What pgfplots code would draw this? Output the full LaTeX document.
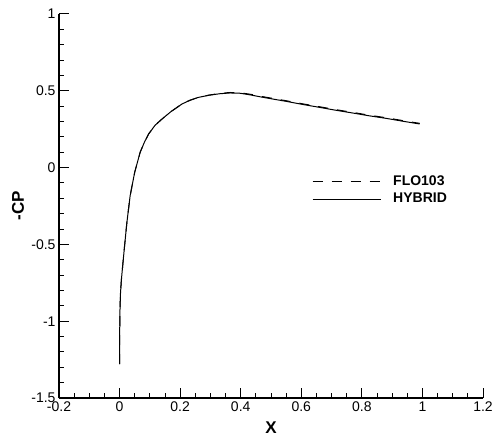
\documentclass[border=0pt]{standalone}
\usepackage{pgfplots}
\pgfplotsset{compat=1.18}
\usepackage{fontspec}
\setmainfont{Liberation Sans}
\pgfplotstableread{
x y
0.000 -1.28
0.0003 -1.10
0.001 -0.95
0.003 -0.82
0.006 -0.73
0.010 -0.645
0.017 -0.50
0.024 -0.36
0.035 -0.182
0.050 -0.03
0.068 0.100
0.082 0.165
0.096 0.219
0.117 0.275
0.140 0.316
0.170 0.365
0.206 0.414
0.232 0.438
0.260 0.457
0.295 0.471
0.331 0.481
0.365 0.486
0.398 0.484
0.430 0.474
0.464 0.461
0.510 0.445
0.551 0.431
0.605 0.411
0.661 0.392
0.715 0.373
0.771 0.355
0.825 0.337
0.882 0.320
0.935 0.302
0.991 0.284
}\hybrid
\pgfplotstableread{
x y
0.000 -1.28
0.0003 -1.10
0.001 -0.95
0.003 -0.82
0.006 -0.73
0.010 -0.645
0.017 -0.50
0.024 -0.36
0.035 -0.182
0.050 -0.03
0.068 0.100
0.082 0.165
0.096 0.219
0.117 0.275
0.140 0.316
0.170 0.365
0.206 0.414
0.232 0.438
0.260 0.457
0.295 0.472
0.331 0.483
0.365 0.489
0.398 0.487
0.430 0.478
0.464 0.465
0.510 0.449
0.551 0.435
0.605 0.415
0.661 0.396
0.715 0.377
0.771 0.359
0.825 0.341
0.882 0.324
0.935 0.306
0.991 0.288
}\flo
\begin{document}
\begin{tikzpicture}
\begin{axis}[
  scale only axis, width=424pt, height=384pt,
  xmin=-0.2, xmax=1.2, ymin=-1.5, ymax=1,
  axis x line*=bottom, axis y line*=left,
  xtick={-0.2,0,0.2,0.4,0.6,0.8,1,1.2},
  ytick={-1.5,-1,-0.5,0,0.5,1},
  minor x tick num=3, minor y tick num=4,
  tick align=inside,
  major tick length=10pt, minor tick length=5pt,
  tick style={black, line width=1pt},
  axis line style={line width=1.6pt},
  ticklabel style={font=\fontsize{14}{16}\selectfont},
  /pgf/number format/assume math mode=true,
  xlabel={\textbf{X}}, ylabel={\textbf{-CP}},
  label style={font=\fontsize{17}{19}\selectfont},
  xlabel style={at={(axis description cs:0.5,-0.078)}, anchor=center},
  ylabel style={at={(axis description cs:-0.0967,0.5)}, anchor=center},
  legend image code/.code={\draw[#1] (0pt,0pt) -- (68pt,0pt);},
  legend style={draw=none, fill=none, inner sep=0pt,
    at={(axis description cs:0.5967,0.540)}, anchor=west,
    font=\fontsize{14}{16}\selectfont\bfseries,
    nodes={inner sep=0pt, text height=10pt, text depth=3pt},
    row sep=4.6pt,
    /tikz/every odd column/.append style={column sep=12pt}},
  legend cell align=left,
]
\addplot[black, line width=1pt, dash pattern=on 10pt off 9pt] table {\flo};
\addlegendentry{FLO103}
\addplot[black, line width=1pt] table {\hybrid};
\addlegendentry{HYBRID}
\end{axis}
\pgfresetboundingbox
\useasboundingbox (-59pt,-39pt) rectangle (436pt,398pt);
\end{tikzpicture}
\end{document}
